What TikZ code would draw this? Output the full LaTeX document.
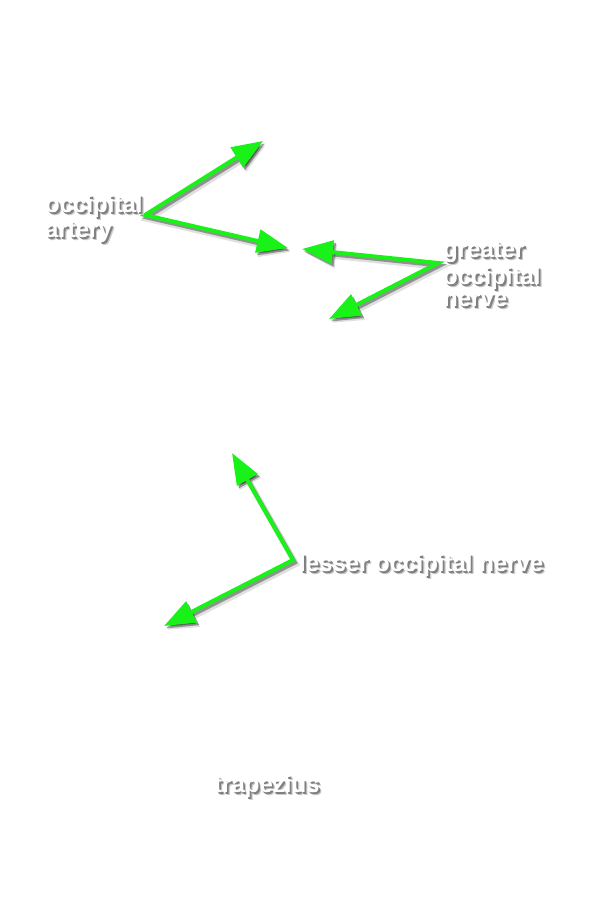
\documentclass[tikz,border=0pt]{standalone}
\usepackage{fontspec}
\setmainfont{Liberation Sans}
\usetikzlibrary{arrows.meta}
\definecolor{arrowgreen}{RGB}{24,242,24}
\definecolor{shadowlight}{gray}{0.80}
\definecolor{shadowdark}{gray}{0.50}
\newcommand\shw[1]{%
  \rlap{\kern3pt\raisebox{-3pt}{\textcolor{shadowlight}{#1}}}%
  \rlap{\kern1.8pt\raisebox{-2pt}{\textcolor{shadowdark}{#1}}}%
  \textcolor{white}{#1}}
\tikzset{
  lbl/.style={font=\fontsize{24}{22}\selectfont\bfseries, inner sep=0pt, anchor=base west, align=left},
  tips/.style={{Triangle[length=31pt,width=23pt]}-{Triangle[length=31pt,width=23pt]}},
  greenarrow/.style={tips, draw=arrowgreen, line width=4pt, line join=miter},
  arrowshadowA/.style={tips, draw=black, line width=6pt, opacity=0.12, line join=miter},
  arrowshadowB/.style={tips, draw=black, line width=4pt, opacity=0.35, line join=miter},
}
\newcommand\sharrow[3]{%
  \begin{scope}[transform canvas={shift={(3pt,-4pt)}}]
    \draw[arrowshadowA] (#1) -- (#2) -- (#3);
  \end{scope}
  \begin{scope}[transform canvas={shift={(2pt,-2.5pt)}}]
    \draw[arrowshadowB] (#1) -- (#2) -- (#3);
  \end{scope}
  \draw[greenarrow] (#1) -- (#2) -- (#3);
}
\begin{document}
\begin{tikzpicture}[x=1pt, y=-1pt]
  \useasboundingbox (0,0) rectangle (598,900);
  \fill[white] (0,0) rectangle (598,900);

  % arrow coordinates
  \coordinate (e1) at (145,215);
  \coordinate (t1a) at (263,141);
  \coordinate (t1b) at (288,248);
  \coordinate (e2) at (438,263);
  \coordinate (t2a) at (302,249);
  \coordinate (t2b) at (329,319);
  \coordinate (e3) at (293,560);
  \coordinate (t3a) at (232,453);
  \coordinate (t3b) at (164,626);

  \sharrow{t1a}{e1}{t1b}
  \sharrow{t2a}{e2}{t2b}
  \sharrow{t3a}{e3}{t3b}

  % labels (base = baseline of last line)
  \node[lbl] (artery) at (45,237) {\shw{occipital}\\\shw{artery}};
  \node[lbl] (gon) at (443,306) {\shw{greater}\\\shw{occipital}\\\shw{nerve}};
  \node[lbl] (lon) at (299,571) {\shw{lesser occipital nerve}};
  \node[lbl] (trap) at (214,792) {\shw{trapezius}};
\end{tikzpicture}
\end{document}
